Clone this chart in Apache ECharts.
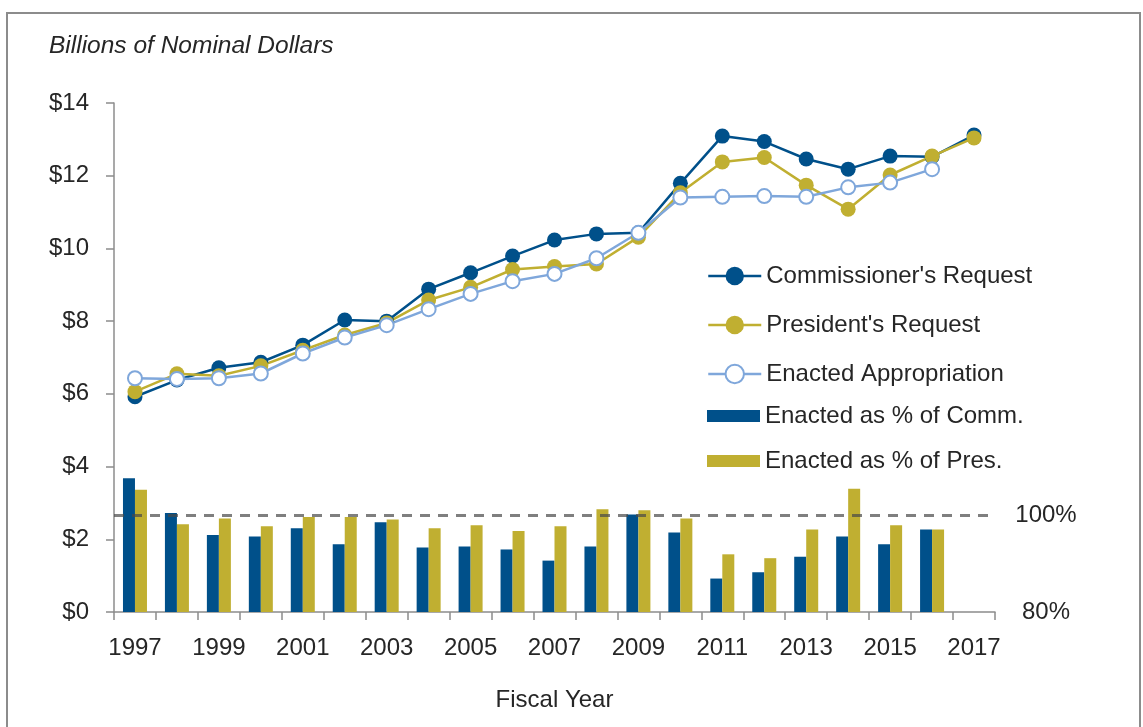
<!DOCTYPE html>
<html>
<head>
<meta charset="utf-8">
<script src="https://cdn.jsdelivr.net/npm/echarts@6/dist/echarts.min.js"></script>
<style>
  html, body { margin: 0; padding: 0; background: #fff; }
  #main { width: 1143px; height: 727px; }
</style>
</head>
<body>
<div id="main"></div>
<script>
// fiscal years
var years = ['1997','1998','1999','2000','2001','2002','2003','2004','2005','2006','2007',
             '2008','2009','2010','2011','2012','2013','2014','2015','2016','2017'];

// billions of nominal dollars
var commRequest = [5.92, 6.38, 6.72, 6.87, 7.34, 8.03, 8.00, 8.88, 9.33, 9.79, 10.23,
                   10.40, 10.43, 11.79, 13.09, 12.94, 12.46, 12.18, 12.54, 12.52, 13.12];
var presRequest = [6.06, 6.55, 6.50, 6.77, 7.20, 7.62, 7.95, 8.58, 8.93, 9.42, 9.50,
                   9.57, 10.31, 11.53, 12.38, 12.50, 11.74, 11.08, 12.02, 12.54, 13.04];
var enacted     = [6.43, 6.41, 6.43, 6.56, 7.11, 7.55, 7.89, 8.33, 8.75, 9.10, 9.30,
                   9.73, 10.43, 11.40, 11.42, 11.44, 11.42, 11.68, 11.81, 12.18, null];

// enacted as percent of requests (right axis)
var pctOfComm = [107.6, 100.4, 95.9, 95.6, 97.3, 94.0, 98.5, 93.3, 93.5, 92.9, 90.6,
                 93.5, 100.1, 96.4, 86.9, 88.2, 91.4, 95.6, 94.0, 97.0, null];
var pctOfPres = [105.2, 98.1, 99.3, 97.7, 99.6, 99.6, 99.1, 97.3, 97.9, 96.7, 97.7,
                 101.2, 101.0, 99.3, 91.9, 91.1, 97.0, 105.4, 97.9, 97.0, null];

var leftTicks = [0, 2, 4, 6, 8, 10, 12, 14];
var rightLabels = [80, 100];

var DARK = '#00508a', GOLD = '#c0af31', LIGHT = '#7fa7db';
var FONT = 'Liberation Sans';
var TXT = '#262626';
var AXIS = '#8c8c8c';

var chart = echarts.init(document.getElementById('main'));

var option = {
  animation: false,
  backgroundColor: '#fff',
  textStyle: { fontFamily: FONT },
  title: {
    text: 'Billions of Nominal Dollars',
    left: 44, top: 29,
    textStyle: { fontFamily: FONT, fontStyle: 'italic', fontWeight: 'normal', fontSize: 24.5, color: TXT }
  },
  graphic: [{
    type: 'rect', silent: true,
    shape: { x: 7, y: 13, width: 1133, height: 800 },
    style: { fill: 'none', stroke: '#8c8c8c', lineWidth: 2 }
  }],
  grid: { left: 114, right: 148, top: 103, bottom: 115, containLabel: false },
  legend: [{
    data: ["Commissioner's Request", "President's Request", 'Enacted Appropriation'],
    orient: 'vertical', left: 702, top: 259,
    itemWidth: 53, itemHeight: 23, itemGap: 25,
    selectedMode: false,
    lineStyle: { width: 2.5 },
    textStyle: { fontFamily: FONT, fontSize: 24, color: TXT }
  }, {
    data: ['Enacted as % of Comm.', 'Enacted as % of Pres.'],
    orient: 'vertical', left: 702, top: 399,
    icon: 'rect',
    itemWidth: 53, itemHeight: 12, itemGap: 21,
    selectedMode: false,
    textStyle: { fontFamily: FONT, fontSize: 24, color: TXT }
  }],
  xAxis: {
    type: 'category',
    data: years,
    boundaryGap: true,
    name: 'Fiscal Year',
    nameLocation: 'middle',
    nameGap: 76,
    nameTextStyle: { fontFamily: FONT, fontSize: 24, color: TXT },
    axisLine: { lineStyle: { color: AXIS, width: 1.5 } },
    axisTick: { show: true, interval: 0, length: 8, lineStyle: { color: AXIS, width: 1.5 } },
    axisLabel: { interval: 1, margin: 24, fontFamily: FONT, fontSize: 24, color: TXT },
    splitLine: { show: false }
  },
  yAxis: [{
    type: 'value',
    min: 0, max: 14, interval: 2,
    axisLine: { show: true, lineStyle: { color: AXIS, width: 1.5 } },
    axisTick: { show: true, length: 8, lineStyle: { color: AXIS, width: 1.5 } },
    axisLabel: {
      margin: 25, fontFamily: FONT, fontSize: 24, color: TXT,
      padding: [10, 0, 0, 0],
      formatter: function (v) { return leftTicks.indexOf(v) >= 0 ? '$' + v : ''; }
    },
    splitLine: { show: false }
  }, {
    type: 'value',
    min: 80, max: 185, interval: 20,
    position: 'right',
    axisLine: { show: false },
    axisTick: { show: false },
    axisLabel: {
      margin: 51, align: 'center', fontFamily: FONT, fontSize: 24, color: TXT,
      padding: [10, 0, 0, 0],
      formatter: function (v) { return rightLabels.indexOf(v) >= 0 ? v + '%' : ''; }
    },
    splitLine: { show: false }
  }],
  series: [{
    name: 'Enacted as % of Comm.',
    type: 'bar',
    yAxisIndex: 1,
    data: pctOfComm,
    barWidth: 12,
    barGap: '0%',
    itemStyle: { color: DARK },
    markLine: {
      silent: true,
      symbol: 'none',
      label: { show: false },
      lineStyle: { color: 'rgba(72,72,72,0.7)', width: 3, type: [10, 8] },
      data: [{ yAxis: 100 }]
    }
  }, {
    name: 'Enacted as % of Pres.',
    type: 'bar',
    yAxisIndex: 1,
    data: pctOfPres,
    barWidth: 12,
    barGap: '0%',
    itemStyle: { color: GOLD }
  }, {
    name: "Commissioner's Request",
    type: 'line',
    data: commRequest,
    symbol: 'circle',
    symbolSize: 15,
    lineStyle: { color: DARK, width: 2.5 },
    itemStyle: { color: DARK }
  }, {
    name: "President's Request",
    type: 'line',
    data: presRequest,
    symbol: 'circle',
    symbolSize: 15,
    lineStyle: { color: GOLD, width: 2.5 },
    itemStyle: { color: GOLD }
  }, {
    name: 'Enacted Appropriation',
    type: 'line',
    data: enacted,
    symbol: 'circle',
    symbolSize: 14,
    lineStyle: { color: LIGHT, width: 2.5 },
    itemStyle: { color: '#fff', borderColor: LIGHT, borderWidth: 2 }
  }]
};

chart.setOption(option);
</script>
</body>
</html>
